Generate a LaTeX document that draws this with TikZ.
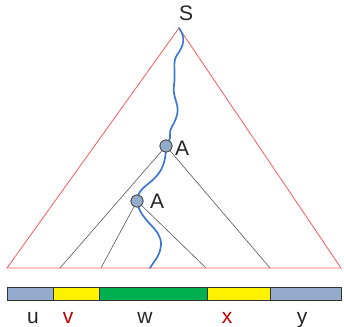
\documentclass[tikz,border=0pt]{standalone}
\usepackage{fontspec}
\setmainfont{Liberation Sans}
\definecolor{bgrey}{HTML}{95ABCB}
\definecolor{dblue}{HTML}{3D78D6}
\definecolor{mgreen}{HTML}{00B050}
\definecolor{tred}{HTML}{FF5A5A}
\definecolor{lred}{HTML}{C00000}
\begin{document}
\begin{tikzpicture}[x=1pt,y=-1pt,
  tri/.style={draw=tred,line width=0.8pt},
  branch/.style={draw=black!65,line width=0.6pt},
  deriv/.style={draw=dblue,line width=1.7pt,line cap=round},
  nt/.style={circle,draw=black!70,fill=bgrey,minimum size=12pt,inner sep=0pt,line width=0.8pt},
  seg/.style={draw=black!80,line width=0.8pt},
  lbl/.style={font=\fontsize{21}{24}\selectfont,inner sep=0pt,text=black!85},
  rlbl/.style={lbl,text=lred}]
\useasboundingbox (0,0) rectangle (344,326);
\coordinate (top) at (179,28);
\coordinate (bl) at (7,268);
\coordinate (br) at (341,268);
\coordinate (b1) at (60,268);
\coordinate (b2) at (101,268);
\coordinate (b3) at (206,268);
\coordinate (b4) at (270,268);
\coordinate (pend) at (150,268);
\node[lbl] (S) at (186,13) {S};
\node[nt] (A1) at (166,146) {};
\node[nt] (A2) at (137,201) {};
\node[lbl,anchor=west] (lA1) at (175,148) {A};
\node[lbl,anchor=west] (lA2) at (150,201) {A};
\draw[branch] (A1) -- (b1);
\draw[branch] (A1) -- (b4);
\draw[branch] (A2) -- (b2);
\draw[branch] (A2) -- (b3);
\draw[tri] (top) -- (br) -- (bl) -- cycle;
\draw[deriv] (top) .. controls (186,38) and (184,45) .. (177,55)
  .. controls (172,62) and (176,72) .. (174,85)
  .. controls (172,98) and (180,104) .. (177,115)
  .. controls (174,126) and (169,128) .. (170,135)
  .. controls (171,140) and (167,142) .. (A1.center);
\draw[deriv] (A1.center) .. controls (166,168) and (158,176) .. (148,184)
  .. controls (140,190) and (137,195) .. (A2.center);
\draw[deriv] (A2.center) .. controls (140,222) and (162,228) .. (161,245)
  .. controls (160,257) and (153,262) .. (pend);
\node[nt] at (A1) {};
\node[nt] at (A2) {};
\path[seg,fill=bgrey] (7,287) rectangle (53,300);
\path[seg,fill=yellow] (53,287) rectangle (99,300);
\path[seg,fill=mgreen] (99,287) rectangle (207,300);
\path[seg,fill=yellow] (207,287) rectangle (270,300);
\path[seg,fill=bgrey] (270,287) rectangle (341,300);
\node[lbl,anchor=base] (u) at (33,323) {u};
\node[rlbl,anchor=base] (v) at (68,323) {v};
\node[lbl,anchor=base] (w) at (145,323) {w};
\node[rlbl,anchor=base] (x) at (227,323) {x};
\node[lbl,anchor=base] (y) at (302,323) {y};
\end{tikzpicture}
\end{document}
